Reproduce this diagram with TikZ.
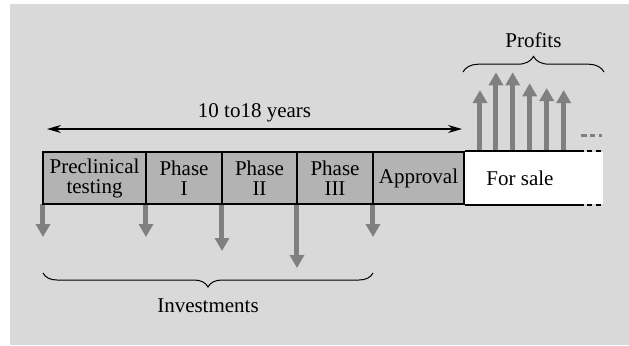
\documentclass[tikz,border=0pt]{standalone}
\usepackage{fontspec}
\setmainfont{Liberation Serif}
\usetikzlibrary{arrows.meta,decorations.pathreplacing}
\definecolor{bggray}{HTML}{D9D9D9}
\definecolor{boxgray}{HTML}{B3B3B3}
\definecolor{cashgray}{HTML}{808080}
\begin{document}
\begin{tikzpicture}[x=0.5pt,y=-0.5pt,
        font=\fontsize{10.5}{10}\selectfont,
        phasebox/.style={draw,line width=1pt,fill=boxgray,minimum height=26pt,inner sep=0pt,align=center},
        cash/.style={draw=cashgray,line width=2.5pt,-{Triangle[length=6.5pt,width=7pt]}},
        rim/.style={line width=1pt},
        timespan/.style={line width=0.6pt,{Stealth[length=7pt,width=4pt]}-{Stealth[length=7pt,width=4pt]}},
        curly/.style={line width=0.5pt,decorate,decoration={brace,amplitude=#1}}]
        % Hintergrund
        \useasboundingbox (0,0) rectangle (629,345);
        \fill[bggray] (10,4) rectangle (629,345);
        \fill[white] (464,152) rectangle (603,204);
        % Investitionen
        \coordinate (pSW) at (43,204);
        \coordinate (p1) at (146,204);
        \coordinate (p2) at (222,204);
        \coordinate (p3) at (297,204);
        \coordinate (p4) at (373,204);
        \foreach \c/\h in {pSW/33,p1/33,p2/47,p3/64,p4/33}{
            \draw[cash] (\c) -- ++(0,\h);
        }
        % Phasen
        \node[phasebox,minimum width=51.5pt] (pre) at (94.5,178) {Preclinical\\testing};
        \node[phasebox,minimum width=38pt] (ph1) at (184,178) {Phase\\I};
        \node[phasebox,minimum width=37.5pt] (ph2) at (259.5,178) {Phase\\II};
        \node[phasebox,minimum width=38pt] (ph3) at (335,178) {Phase\\III};
        \node[phasebox,minimum width=45.5pt] (appr) at (418.5,178) {Approval};
        \node (sale) at (520,178) {For sale};
        % Gewinne
        \foreach \dx/\h in {15/61,31/78.7,47.7/78.7,64.7/67.7,81.7/63,98.7/61}{
            \draw[cash] (appr.north east) ++(\dx,0) -- ++(0,-\h);
        }
        \draw[cashgray,line width=1.5pt,dash pattern=on 2.8pt off 1.6pt] (581,135) -- (602,135);
        % Rand
        \draw[rim] (appr.north east) -- ++(113,0) coordinate (topend);
        \draw[rim,dash pattern=on 2.8pt off 1.6pt] (topend) -- ++(25,0);
        \draw[rim] (appr.south east) -- ++(113,0) coordinate (botend);
        \draw[rim,dash pattern=on 2.8pt off 1.6pt] (botend) -- ++(25,0);
        % Dauer
        \coordinate (spanL) at (47,129);
        \coordinate (spanR) at (462,129);
        \draw[timespan] (spanL) -- node[above] {10 to18 years} (spanR);
        % Klammern
        \coordinate (profL) at (463,72);
        \coordinate (profR) at (604,72);
        \draw[curly=7.8pt] (profL) -- (profR);
        \node (profits) at (533.5,40) {Profits};
        \coordinate (invL) at (43,273);
        \coordinate (invR) at (373,273);
        \draw[curly=7pt,decoration={mirror}] (invL) -- (invR);
        \node (invest) at (208,306) {Investments};
    \end{tikzpicture}
\end{document}
